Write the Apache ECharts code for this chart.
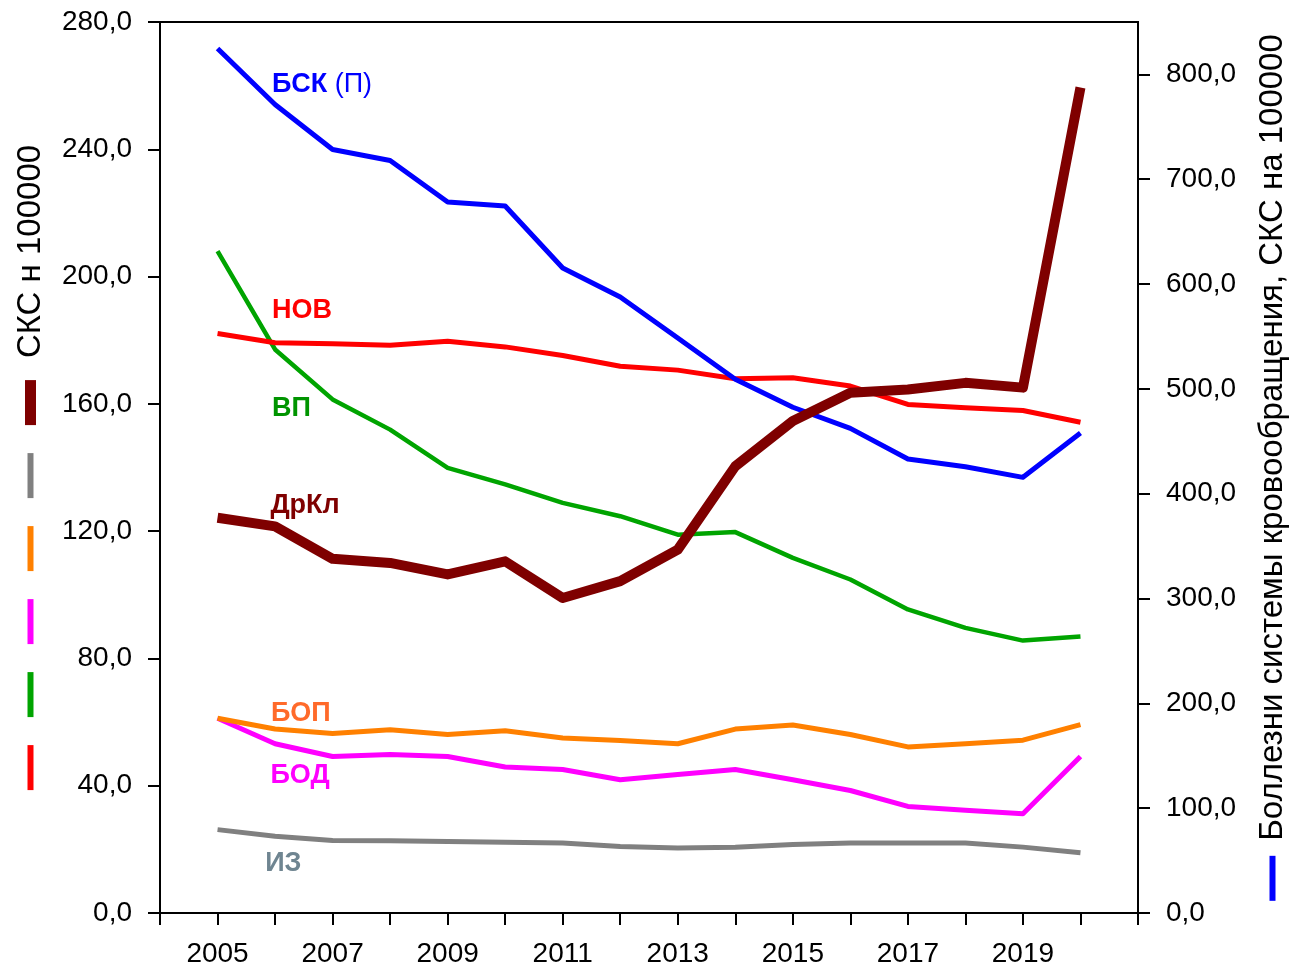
<!DOCTYPE html>
<html><head><meta charset="utf-8">
<script src="https://cdn.jsdelivr.net/npm/echarts@6/dist/echarts.min.js"></script>
<style>html,body{margin:0;padding:0;background:#fff}#c{width:1297px;height:970px}</style>
</head><body><div id="c"></div>
<script>
// ---- data ----
const years = [2005,2006,2007,2008,2009,2010,2011,2012,2013,2014,2015,2016,2017,2018,2019,2020];
const bsk  = [824.8,771.3,728.3,717.8,678.3,674.5,615.3,587.6,548.6,509.2,482.5,462.3,433.1,425.7,415.6,457.9]; // right axis
const nov  = [182.1,179.2,178.9,178.4,179.7,177.9,175.2,171.8,170.6,167.9,168.2,165.6,159.8,158.8,157.9,154.2];
const vp   = [208.0,177.1,161.4,151.9,139.9,134.7,128.9,124.7,118.9,119.7,111.6,104.8,95.4,89.6,85.6,86.9];
const drkl = [124.2,121.5,111.3,110.0,106.4,110.5,99.0,104.3,114.2,140.4,154.6,163.5,164.5,166.6,165.1,259.4];
const bop  = [61.2,57.8,56.4,57.6,56.1,57.3,55.0,54.2,53.2,57.8,59.1,56.1,52.2,53.2,54.3,59.2];
const bod  = [61.2,53.2,49.2,49.8,49.2,45.9,45.1,41.9,43.5,45.1,41.9,38.5,33.5,32.3,31.2,49.2];
const iz   = [26.2,24.1,22.8,22.7,22.5,22.2,22.0,20.9,20.4,20.7,21.5,22.0,22.0,22.0,20.7,18.9];
const rightTicks = [0,100,200,300,400,500,600,700,800];
// series annotations (text and where they sit, in data units of the left axis)
const annoText = ['БСК','НОВ','ВП','ДрКл','БОП','БОД','ИЗ'];
const annoX = [2005.94,2005.94,2005.94,2005.91,2005.92,2005.91,2005.82];
const annoY = [260.5,189.3,158.6,127.9,62.8,43.3,15.5];

const FONT = 'Liberation Sans';
const C = {bsk:'#0000FF', nov:'#FF0000', vp:'#00A400', drkl:'#7F0000', bop:'#FF8000', bod:'#FF00FF', iz:'#808080'};
const annoColor = ['#0000FF','#FF0000','#009400','#7F0000','#FF6A2A','#FF00FF','#6F8591'];
const fmt = v => v.toFixed(1).replace('.', ',');
const pairs = arr => years.map((y,i)=>[y, arr[i]]);

function lineSeries(name, arr, color, width, yIdx){
  return {name, type:'line', data:pairs(arr), yAxisIndex:yIdx||0, symbol:'none', silent:true,
    lineStyle:{color, width, join:'round', cap:'butt'}, itemStyle:{color}, z:2};
}

const chart = echarts.init(document.getElementById('c'), null, {renderer:'canvas'});
const axisLine = {show:true, lineStyle:{color:'#000', width:2}};
const axisTick = {show:true, length:12, inside:false, lineStyle:{color:'#000', width:2}};
const labelStyle = {color:'#000', fontSize:28, fontFamily:FONT};

chart.setOption({
  animation:false,
  backgroundColor:'#fff',
  grid:{left:160, right:157, top:22, bottom:57, show:true, borderColor:'#000', borderWidth:2, containLabel:false},
  xAxis:{type:'value', min:2004, max:2021, interval:1, axisLine, axisTick, splitLine:{show:false},
    axisLabel:Object.assign({margin:27, formatter:v => (v%2===1 && v<2021) ? String(v) : ''}, labelStyle)},
  yAxis:[
    {type:'value', position:'left', min:0, max:280, interval:40, axisLine, axisTick, splitLine:{show:false},
     axisLabel:Object.assign({margin:28, formatter:fmt}, labelStyle),
     name:'{r|}{s|}{g|}{s|}{m|}{s|}{o|}{s|}{y|}{s|}{d|}{s2|}{t|СКС н 100000}',
     nameLocation:'middle', nameRotate:90, nameGap:113,
     nameTextStyle:{rich:{
       r:{width:45,height:6,backgroundColor:C.nov},
       g:{width:45,height:6,backgroundColor:C.vp},
       m:{width:45,height:6,backgroundColor:C.bod},
       o:{width:45,height:6,backgroundColor:C.bop},
       y:{width:45,height:6,backgroundColor:C.iz},
       d:{width:45,height:11,backgroundColor:C.drkl},
       s:{width:28},
       s2:{width:22},
       t:{fontSize:33, fontFamily:FONT, color:'#000'}
     }}},
    {type:'value', position:'right', min:0, max:850, interval:100, axisLine,
     axisTick:Object.assign({customValues:rightTicks}, axisTick), splitLine:{show:false},
     axisLabel:Object.assign({margin:28, formatter:fmt, customValues:rightTicks}, labelStyle),
     name:'{b|}{s|}{t|Боллезни системы кровообращения, СКС на 100000}',
     nameLocation:'middle', nameRotate:90, nameGap:118,
     nameTextStyle:{rich:{
       b:{width:45,height:6,backgroundColor:C.bsk},
       s:{width:15},
       t:{fontSize:33, fontFamily:FONT, color:'#000'}
     }}}
  ],
  series:[
    lineSeries('ИЗ', iz, C.iz, 5),
    lineSeries('БОД', bod, C.bod, 5),
    lineSeries('БОП', bop, C.bop, 5),
    lineSeries('ВП', vp, C.vp, 4.5),
    lineSeries('НОВ', nov, C.nov, 5),
    lineSeries('БСК', bsk, C.bsk, 5, 1),
    lineSeries('ДрКл', drkl, C.drkl, 10),
    {type:'scatter', yAxisIndex:0, symbolSize:1, itemStyle:{color:'rgba(0,0,0,0)', opacity:1}, silent:true, z:5,
     data:annoText.map((t,i)=>({value:[annoX[i], annoY[i]], name:t,
       label:{show:true, position:'right', distance:0, color:annoColor[i], fontSize:27, fontWeight:'bold', fontFamily:FONT,
         formatter: i===0 ? '{b|БСК} {n|(П)}' : t,
         rich: i===0 ? {b:{fontSize:27, fontWeight:'bold', color:annoColor[0], fontFamily:FONT},
                        n:{fontSize:27, fontWeight:'normal', color:annoColor[0], fontFamily:FONT}} : undefined}}))}
  ]
});
</script></body></html>
